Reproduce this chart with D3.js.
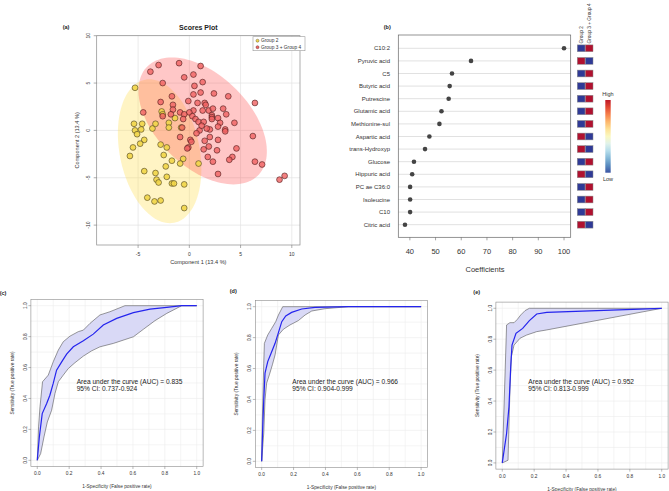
<!DOCTYPE html>
<html><head><meta charset="utf-8">
<script src="https://cdn.jsdelivr.net/npm/d3@7"></script>
<style>body{margin:0;background:#fff}svg text{font-family:"Liberation Sans",Arial,sans-serif}</style>
</head><body><svg id="c" width="669" height="491"></svg>
<script>
// ---------- DATA: panel (a) PCA scores ----------
const group2Points = [[-5.3,4.5],[-5.4,0.7],[-4.6,0.7],[-5.3,0.0],[-4.7,0.1],[-5.1,-0.4],[-4.4,-1.0],[-3.6,0.2],[-3.3,0.7],[-2.7,2.0],[-2.6,1.7],[-4.8,-1.4],[-5.5,-1.8],[-5.8,-2.7],[-2.8,-1.5],[-2.2,-1.8],[-2.5,-2.6],[-4.4,-4.3],[-3.3,-4.5],[-3.2,-5.2],[-3.0,-5.5],[-2.3,-3.8],[-2.2,-4.9],[-1.7,-3.2],[-1.7,-5.6],[-1.5,-5.6],[-4.1,-7.1],[-3.4,-7.5],[-2.8,-7.4],[-0.5,-8.2],[-0.5,-5.7],[-0.6,-3.0],[-0.9,-3.5],[0.9,-3.5],[-2.0,0.8],[-2.0,0.3],[-1.4,1.3],[-0.8,0.3]];
const group34Points = [[-3.0,6.9],[-1.0,7.1],[1.1,6.8],[-3.8,6.2],[0.4,5.9],[-0.5,5.6],[-2.6,5.0],[1.3,5.1],[0.5,4.7],[-4.5,1.9],[-2.8,3.0],[-1.7,3.6],[-1.6,2.7],[-0.1,3.1],[0.4,3.8],[1.1,4.0],[2.4,3.9],[3.8,3.6],[6.4,2.9],[0.8,2.9],[1.5,2.9],[1.6,2.7],[1.9,2.1],[2.3,2.3],[3.3,2.3],[1.3,2.1],[0.4,2.1],[0.0,1.9],[-1.6,2.2],[-2.6,1.5],[-1.8,1.7],[-0.9,1.9],[-0.5,1.7],[0.3,1.5],[0.6,1.2],[0.9,0.9],[1.4,0.9],[2.2,1.6],[2.2,1.4],[2.2,1.2],[2.8,1.3],[3.6,1.7],[4.4,0.8],[3.0,0.8],[2.8,0.4],[3.5,0.1],[3.5,-0.1],[2.0,0.1],[1.7,0.2],[1.0,0.0],[0.7,-0.3],[-0.7,0.3],[0.1,-1.0],[0.2,-1.2],[-0.9,-0.7],[2.0,-0.7],[1.5,-1.1],[2.8,-1.0],[1.4,-2.0],[1.9,-1.7],[2.7,-2.1],[-0.1,-1.8],[-0.2,-1.9],[4.6,-1.9],[4.2,-2.8],[3.9,-3.1],[2.3,-3.3],[1.8,-2.8],[6.2,-0.6],[6.4,-3.3],[7.1,-3.6],[2.8,-4.6],[8.8,-5.2],[9.3,-4.8],[-0.6,1.2],[1.2,0.5]];
// confidence ellipses: centre and two conjugate semi-diameters (data units)
const ellipseGroup2 = {cx:-2.9, cy:-2.2, p:[-1.0,7.6], q:[3.95,0]};
const ellipseGroup34 = {cx:1.3, cy:1.0, p:[-3.0,6.7], q:[5.5,0]};
const scoreXTicks = [-5,0,5,10];
const scoreYTicks = [-10,-5,0,5,10];
const legendLabels = ["Group 2","Group 3 + Group 4"];

// ---------- DATA: panel (b) ----------
const metabolites = ["C10:2","Pyruvic acid","C5","Butyric acid","Putrescine","Glutamic acid","Methionine-sul","Aspartic acid","trans-Hydroxyp","Glucose","Hippuric acid","PC ae C36:0","Isoleucine","C10","Citric acid"];
const coefficients = [100,63.8,56.4,55.5,55.1,52.3,51.5,47.6,45.9,41.6,40.9,40.1,40.1,40.1,38.1];
const heatGroup2 = [0,1,0,0,0,0,0,1,1,0,1,0,0,0,1];   // 1 = High, 0 = Low
const heatGroup34 = [1,0,1,1,1,1,1,0,0,1,0,1,1,1,0];
const heatColumns = ["Group 2","Group 3 + Group 4"];
const coefTicks = [40,50,60,70,80,90,100];

// ---------- DATA: ROC panels ----------
const rocMeanC = [[0,0],[0.013,0.151],[0.031,0.302],[0.059,0.367],[0.079,0.421],[0.100,0.497],[0.121,0.583],[0.153,0.637],[0.184,0.687],[0.226,0.734],[0.289,0.773],[0.351,0.816],[0.414,0.875],[0.498,0.918],[0.603,0.955],[0.707,0.978],[0.812,0.989],[0.906,1],[1,1]];
const rocUpperC = [[0,0],[0.008,0.216],[0.017,0.346],[0.033,0.508],[0.069,0.551],[0.100,0.637],[0.132,0.713],[0.163,0.767],[0.205,0.803],[0.257,0.832],[0.289,0.842],[0.331,0.886],[0.393,0.940],[0.456,0.961],[0.550,1],[1,1]];
const rocLowerC = [[0,0],[0.021,0.043],[0.042,0.151],[0.063,0.248],[0.090,0.324],[0.111,0.432],[0.132,0.508],[0.163,0.551],[0.195,0.594],[0.236,0.631],[0.289,0.674],[0.341,0.708],[0.393,0.734],[0.477,0.756],[0.603,0.799],[0.665,0.847],[0.738,0.903],[0.812,0.950],[0.906,1],[1,1]];
const rocMeanD = [[0,0],[0.006,0.204],[0.013,0.398],[0.021,0.570],[0.038,0.645],[0.059,0.699],[0.084,0.763],[0.105,0.832],[0.126,0.903],[0.151,0.940],[0.188,0.963],[0.251,0.985],[0.335,0.996],[0.544,1],[1,1]];
const rocUpperD = [[0,0],[0.004,0.269],[0.013,0.634],[0.017,0.763],[0.038,0.817],[0.063,0.860],[0.088,0.903],[0.105,0.946],[0.132,1],[1,1]];
const rocLowerD = [[0,0],[0.013,0.183],[0.021,0.398],[0.031,0.505],[0.048,0.559],[0.067,0.624],[0.084,0.688],[0.105,0.817],[0.136,0.854],[0.178,0.882],[0.230,0.910],[0.272,0.946],[0.314,0.972],[0.397,0.987],[0.544,1],[1,1]];
const rocMeanE = [[0,0],[0.027,0.190],[0.042,0.363],[0.053,0.622],[0.061,0.762],[0.086,0.838],[0.128,0.870],[0.170,0.920],[0.216,0.963],[0.279,0.974],[1,1]];
const rocUpperE = [[0,0],[0.027,0.892],[0.048,0.907],[0.074,0.907],[0.095,0.929],[0.116,0.957],[0.143,0.985],[0.170,1],[1,1]];
const rocLowerE = [[0,0],[0.036,0.017],[0.048,0.471],[0.057,0.687],[0.074,0.762],[0.111,0.806],[0.153,0.827],[0.216,0.849],[0.279,0.860],[1,1]];
const aucValues = ["0.835","0.966","0.952"];
const ciValues = ["0.737-0.924","0.904-0.999","0.813-0.999"];
const rocTicks = [0,0.2,0.4,0.6,0.8,1.0];
const rocGrid = [0,0.1,0.2,0.3,0.4,0.5,0.6,0.7,0.8,0.9,1.0];

// ---------- DRAW ----------
const svg = d3.select("#c");
const fmt1 = d3.format(".1f");

// ===== Panel (a) =====
const xa = d3.scaleLinear().domain([-9.04,10.8]).range([96.7,300]);
const ya = d3.scaleLinear().domain([-12.1,10]).range([245,35.7]);
const A = svg.append("g");
const [ax0,ax1] = xa.range(), [ay0,ay1] = ya.range();
A.append("clipPath").attr("id","clipA").append("rect").attr("x",ax0).attr("y",ay1).attr("width",ax1-ax0).attr("height",ay0-ay1);
A.selectAll(".gx").data(scoreXTicks).join("line").attr("x1",d=>xa(d)).attr("x2",d=>xa(d)).attr("y1",ay0).attr("y2",ay1).attr("stroke","#e3e3e3").attr("stroke-width",0.7);
A.selectAll(".gy").data(scoreYTicks).join("line").attr("y1",d=>ya(d)).attr("y2",d=>ya(d)).attr("x1",ax0).attr("x2",ax1).attr("stroke","#e3e3e3").attr("stroke-width",0.7);
function ellipsePts(e){return d3.range(0,121).map(i=>{const t=i/120*2*Math.PI;return [e.cx+Math.cos(t)*e.p[0]+Math.sin(t)*e.q[0], e.cy+Math.cos(t)*e.p[1]+Math.sin(t)*e.q[1]];});}
const lineA = d3.line().x(d=>xa(d[0])).y(d=>ya(d[1])).curve(d3.curveLinearClosed);
const EG = A.append("g").attr("clip-path","url(#clipA)");
EG.append("path").attr("d",lineA(ellipsePts(ellipseGroup2))).attr("fill","rgb(255,222,70)").attr("fill-opacity",0.32);
EG.append("path").attr("d",lineA(ellipsePts(ellipseGroup34))).attr("fill","rgb(255,70,70)").attr("fill-opacity",0.3);
A.selectAll(".p2").data(group2Points).join("circle").attr("cx",d=>xa(d[0])).attr("cy",d=>ya(d[1])).attr("r",2.9)
  .attr("fill","#f1d548").attr("fill-opacity",0.9).attr("stroke","#4a4020").attr("stroke-width",0.6);
A.selectAll(".p3").data(group34Points).join("circle").attr("cx",d=>xa(d[0])).attr("cy",d=>ya(d[1])).attr("r",2.9)
  .attr("fill","#f06262").attr("fill-opacity",0.8).attr("stroke","#4a1a1a").attr("stroke-width",0.6);
A.append("rect").attr("x",ax0).attr("y",ay1).attr("width",ax1-ax0).attr("height",ay0-ay1).attr("fill","none").attr("stroke","#8a8a8a").attr("stroke-width",0.7);
// ticks
A.selectAll(".tx").data(scoreXTicks).join("line").attr("x1",d=>xa(d)).attr("x2",d=>xa(d)).attr("y1",ay0).attr("y2",ay0+3).attr("stroke","#777").attr("stroke-width",0.6);
A.selectAll(".tlx").data(scoreXTicks).join("text").attr("x",d=>xa(d)).attr("y",ay0+10.5).attr("text-anchor","middle").attr("font-size",5).attr("fill","#333").text(d=>d);
A.selectAll(".ty").data(scoreYTicks).join("line").attr("y1",d=>ya(d)).attr("y2",d=>ya(d)).attr("x1",ax0).attr("x2",ax0-3).attr("stroke","#777").attr("stroke-width",0.6);
A.selectAll(".tly").data(scoreYTicks).join("text").attr("transform",d=>`translate(${ax0-8},${ya(d)}) rotate(-90)`).attr("dy","0.35em").attr("text-anchor","middle").attr("font-size",5).attr("fill","#333").text(d=>d);
A.append("text").attr("x",(ax0+ax1)/2).attr("y",ay0+19).attr("text-anchor","middle").attr("font-size",5.6).attr("fill","#333").text("Component 1 (13.4 %)");
A.append("text").attr("transform",`translate(${ax0-20},${(ay0+ay1)/2}) rotate(-90)`).attr("dy","0.35em").attr("text-anchor","middle").attr("font-size",5.6).attr("fill","#333").text("Component 2 (13.4 %)");
A.append("text").attr("x",(ax0+ax1)/2).attr("y",ay1-6).attr("text-anchor","middle").attr("font-size",7).attr("font-weight","bold").attr("fill","#222").text("Scores Plot");
A.append("text").attr("x",66).attr("y",29).attr("text-anchor","middle").attr("font-size",5.5).attr("font-weight","bold").attr("fill","#222").text("(a)");
// legend
const LG = A.append("g");
LG.append("rect").attr("x",253).attr("y",ay1+1).attr("width",52).attr("height",14).attr("fill","#fff").attr("stroke","#999").attr("stroke-width",0.6);
const legCols = [["#f1d548","#4a4020"],["#f06666","#4a1a1a"]];
legendLabels.forEach((t,i)=>{
  LG.append("circle").attr("cx",257.5).attr("cy",ay1+5+i*6.5).attr("r",1.5).attr("fill",legCols[i][0]).attr("stroke",legCols[i][1]).attr("stroke-width",0.4);
  LG.append("text").attr("x",261).attr("y",ay1+5+i*6.5).attr("dy","0.35em").attr("font-size",4.8).attr("fill","#333").text(t);
});

// ===== Panel (b) =====
const xb = d3.scaleLinear().domain([35.5,102.6]).range([398.3,570.7]);
const yb = d3.scalePoint().domain(metabolites).range([48.3,224.7]);
const B = svg.append("g");
const bTop=35, bBot=237.3;
B.selectAll(".rl").data(metabolites).join("line").attr("x1",xb.range()[0]).attr("x2",xb.range()[1]).attr("y1",d=>yb(d)).attr("y2",d=>yb(d)).attr("stroke","#dedede").attr("stroke-width",0.9);
B.append("rect").attr("x",xb.range()[0]).attr("y",bTop).attr("width",xb.range()[1]-xb.range()[0]).attr("height",bBot-bTop).attr("fill","none").attr("stroke","#666").attr("stroke-width",0.7);
B.selectAll(".dot").data(metabolites).join("circle").attr("cx",(d,i)=>xb(coefficients[i])).attr("cy",d=>yb(d)).attr("r",2.3).attr("fill","#444");
B.selectAll(".lab").data(metabolites).join("text").attr("x",390).attr("y",d=>yb(d)).attr("dy","0.35em").attr("text-anchor","end").attr("font-size",6).attr("fill","#333").text(d=>d);
B.selectAll(".bt").data(coefTicks).join("line").attr("x1",d=>xb(d)).attr("x2",d=>xb(d)).attr("y1",bBot).attr("y2",bBot+3).attr("stroke","#666").attr("stroke-width",0.6);
B.selectAll(".btl").data(coefTicks).join("text").attr("x",d=>xb(d)).attr("y",bBot+17).attr("text-anchor","middle").attr("font-size",7.5).attr("fill","#333").text(d=>d);
B.append("text").attr("x",485).attr("y",bBot+35).attr("text-anchor","middle").attr("font-size",7.5).attr("fill","#333").text("Coefficients");
B.append("text").attr("x",387.3).attr("y",29).attr("text-anchor","middle").attr("font-size",5.5).attr("font-weight","bold").attr("fill","#222").text("(b)");
// heat cells
const xh = d3.scaleBand().domain(heatColumns).range([577.3,593]).paddingInner(0.04);
const heatColor = v => v ? "#b0112f" : "#2f3a96";
const heatRows = [heatGroup2, heatGroup34];
heatColumns.forEach((col,ci)=>{
  B.selectAll(".h"+ci).data(metabolites).join("rect").attr("x",xh(col)).attr("width",xh.bandwidth())
    .attr("y",d=>yb(d)-3.4).attr("height",6.8).attr("fill",(d,i)=>heatColor(heatRows[ci][i])).attr("stroke","#8a8a8a").attr("stroke-width",0.5);
  B.append("text").attr("transform",`translate(${xh(col)+xh.bandwidth()/2},43.5) rotate(-90)`).attr("dy","0.35em").attr("font-size",4.8).attr("fill","#333").text(col);
});
// colour key
const defs = svg.append("defs");
const grad = defs.append("linearGradient").attr("id","rdylbu").attr("x1",0).attr("y1",0).attr("x2",0).attr("y2",1);
d3.range(0,11).forEach(i=>grad.append("stop").attr("offset",i/10).attr("stop-color",d3.interpolateRdYlBu(i/10*0.9+0.05)));
B.append("rect").attr("x",605.3).attr("y",100).attr("width",5.4).attr("height",72.7).attr("fill","url(#rdylbu)");
B.append("text").attr("x",608).attr("y",96).attr("text-anchor","middle").attr("font-size",5.5).attr("fill","#333").text("High");
B.append("text").attr("x",608).attr("y",181).attr("text-anchor","middle").attr("font-size",5.5).attr("fill","#333").text("Low");

// ===== ROC panels =====
const rocData = [[rocMeanC,rocUpperC,rocLowerC],[rocMeanD,rocUpperD,rocLowerD],[rocMeanE,rocUpperE,rocLowerE]];
const rocLayout = [
  {tag:"(c)",left:30.9,top:299.5,tagX:3,tagY:295,textX:76.7,textY:383.5},
  {tag:"(d)",left:255.3,top:300.5,tagX:233.3,tagY:292.5,textX:292.3,textY:384},
  {tag:"(e)",left:495.9,top:302.1,tagX:476.7,tagY:294,textX:528.3,textY:384}
];
const RW=172.2, RH=167;
rocLayout.forEach((L,i)=>{
  const G = svg.append("g");
  const x = d3.scaleLinear().domain([-0.04,1.04]).range([L.left,L.left+RW]);
  const y = d3.scaleLinear().domain([-0.04,1.04]).range([L.top+RH,L.top]);
  const [mean,upper,lower] = rocData[i];
  G.selectAll(".gv").data(rocGrid).join("line").attr("x1",d=>x(d)).attr("x2",d=>x(d)).attr("y1",L.top).attr("y2",L.top+RH).attr("stroke","#ececec").attr("stroke-width",0.6);
  G.selectAll(".gh").data(rocGrid).join("line").attr("y1",d=>y(d)).attr("y2",d=>y(d)).attr("x1",L.left).attr("x2",L.left+RW).attr("stroke","#ececec").attr("stroke-width",0.6);
  const ln = d3.line().x(d=>x(d[0])).y(d=>y(d[1]));
  G.append("path").attr("d",ln(upper.concat(lower.slice().reverse()))+"Z").attr("fill","#d9d9f6").attr("stroke","none");
  G.append("path").attr("d",ln(upper)).attr("fill","none").attr("stroke","#555").attr("stroke-width",0.6);
  G.append("path").attr("d",ln(lower)).attr("fill","none").attr("stroke","#555").attr("stroke-width",0.6);
  G.append("path").attr("d",ln(mean)).attr("fill","none").attr("stroke","#2424ee").attr("stroke-width",1.2);
  G.append("rect").attr("x",L.left).attr("y",L.top).attr("width",RW).attr("height",RH).attr("fill","none").attr("stroke","#8a8a8a").attr("stroke-width",0.6);
  const bot = L.top+RH;
  G.selectAll(".tx").data(rocTicks).join("line").attr("x1",d=>x(d)).attr("x2",d=>x(d)).attr("y1",bot).attr("y2",bot+2.5).attr("stroke","#777").attr("stroke-width",0.5);
  G.selectAll(".tlx").data(rocTicks).join("text").attr("x",d=>x(d)).attr("y",bot+8.8).attr("text-anchor","middle").attr("font-size",4.8).attr("fill","#333").text(d=>fmt1(d));
  G.selectAll(".ty").data(rocTicks).join("line").attr("y1",d=>y(d)).attr("y2",d=>y(d)).attr("x1",L.left).attr("x2",L.left-2.5).attr("stroke","#777").attr("stroke-width",0.5);
  G.selectAll(".tly").data(rocTicks).join("text").attr("transform",d=>`translate(${L.left-6},${y(d)}) rotate(-90)`).attr("dy","0.35em").attr("text-anchor","middle").attr("font-size",4.8).attr("fill","#333").text(d=>fmt1(d));
  G.append("text").attr("x",L.left+RW/2).attr("y",bot+21.5).attr("text-anchor","middle").attr("font-size",4.8).attr("fill","#333").text("1-Specificity (False positive rate)");
  G.append("text").attr("transform",`translate(${L.left-18.5},${L.top+RH/2}) rotate(-90)`).attr("dy","0.35em").attr("text-anchor","middle").attr("font-size",4.8).attr("fill","#333").text("Sensitivity (True positive rate)");
  G.append("text").attr("x",L.tagX).attr("y",L.tagY).attr("text-anchor","middle").attr("font-size",5.5).attr("font-weight","bold").attr("fill","#222").text(L.tag);
  G.append("text").attr("x",L.textX).attr("y",L.textY).attr("font-size",6.6).attr("fill","#222").text("Area under the curve (AUC) = "+aucValues[i]);
  G.append("text").attr("x",L.textX).attr("y",L.textY+7.3).attr("font-size",6.6).attr("fill","#222").text("95% CI: "+ciValues[i]);
});
</script></body></html>
